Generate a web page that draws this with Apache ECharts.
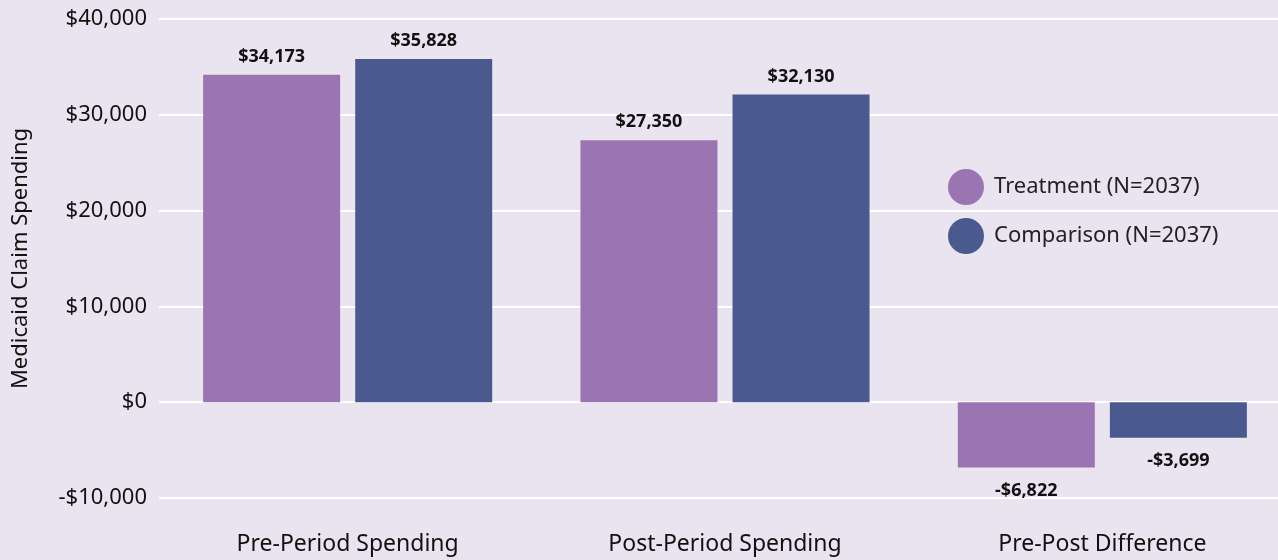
<!DOCTYPE html>
<html>
<head>
<meta charset="utf-8">
<script src="https://cdn.jsdelivr.net/npm/echarts@6/dist/echarts.min.js"></script>
<style>
  html, body { margin: 0; padding: 0; background: #e9e4f0; }
  #chart { width: 1278px; height: 560px; }
</style>
</head>
<body>
<div id="chart"></div>
<script>
const categories = ['Pre-Period Spending', 'Post-Period Spending', 'Pre-Post Difference']
const treatment = [34173, 27350, -6822]
const comparison = [35828, 32130, -3699]
const seriesNames = ['Treatment (N=2037)', 'Comparison (N=2037)']

const money = v => (v < 0 ? '-$' : '$') + Math.abs(v).toLocaleString('en-US')
const font = '"Noto Sans", sans-serif'

const chart = echarts.init(document.getElementById('chart'))

const valueLabel = {
  show: true,
  color: '#111',
  fontFamily: font,
  fontWeight: 'bold',
  fontSize: 18,
  distance: 9,
  formatter: p => money(p.value)
}

// labels sit above positive bars, below negative ones
const barData = (vals) => vals.map(v => ({
  value: v,
  label: v < 0 ? { position: 'bottom', distance: 14 } : { position: 'top' }
}))

chart.setOption({
  backgroundColor: '#e9e4f0',
  animation: false,
  grid: { left: 159, right: -13, top: 19, bottom: 62, outerBoundsMode: 'none' },
  legend: {
    orient: 'vertical',
    left: 943,
    top: 164,
    icon: 'circle',
    itemWidth: 36,
    itemHeight: 36,
    itemGap: 13,
    textStyle: { fontFamily: font, fontSize: 22, color: '#222', padding: [0, 0, 0, 5] },
    data: seriesNames
  },
  xAxis: {
    type: 'category',
    data: categories,
    axisLine: { show: false, onZero: false },
    axisTick: { show: false },
    axisLabel: { color: '#111', fontFamily: font, fontSize: 23, margin: 35 }
  },
  yAxis: {
    type: 'value',
    min: -10000,
    max: 40000,
    interval: 10000,
    name: 'Medicaid Claim Spending',
    nameLocation: 'middle',
    nameGap: 127,
    nameTextStyle: { color: '#111', fontFamily: font, fontSize: 22 },
    axisLabel: { color: '#111', fontFamily: font, fontSize: 22, margin: 12, formatter: v => money(v) },
    splitLine: { lineStyle: { color: '#ffffff', width: 2 } },
    axisLine: { show: false },
    axisTick: { show: false }
  },
  series: [
    {
      name: seriesNames[0],
      type: 'bar',
      data: barData(treatment),
      barWidth: 137,
      barGap: '11%',
      itemStyle: { color: '#9b75b2' },
      label: valueLabel
    },
    {
      name: seriesNames[1],
      type: 'bar',
      data: barData(comparison),
      barWidth: 137,
      barGap: '11%',
      itemStyle: { color: '#4a5a8e' },
      label: valueLabel
    }
  ]
})
</script>
</body>
</html>
